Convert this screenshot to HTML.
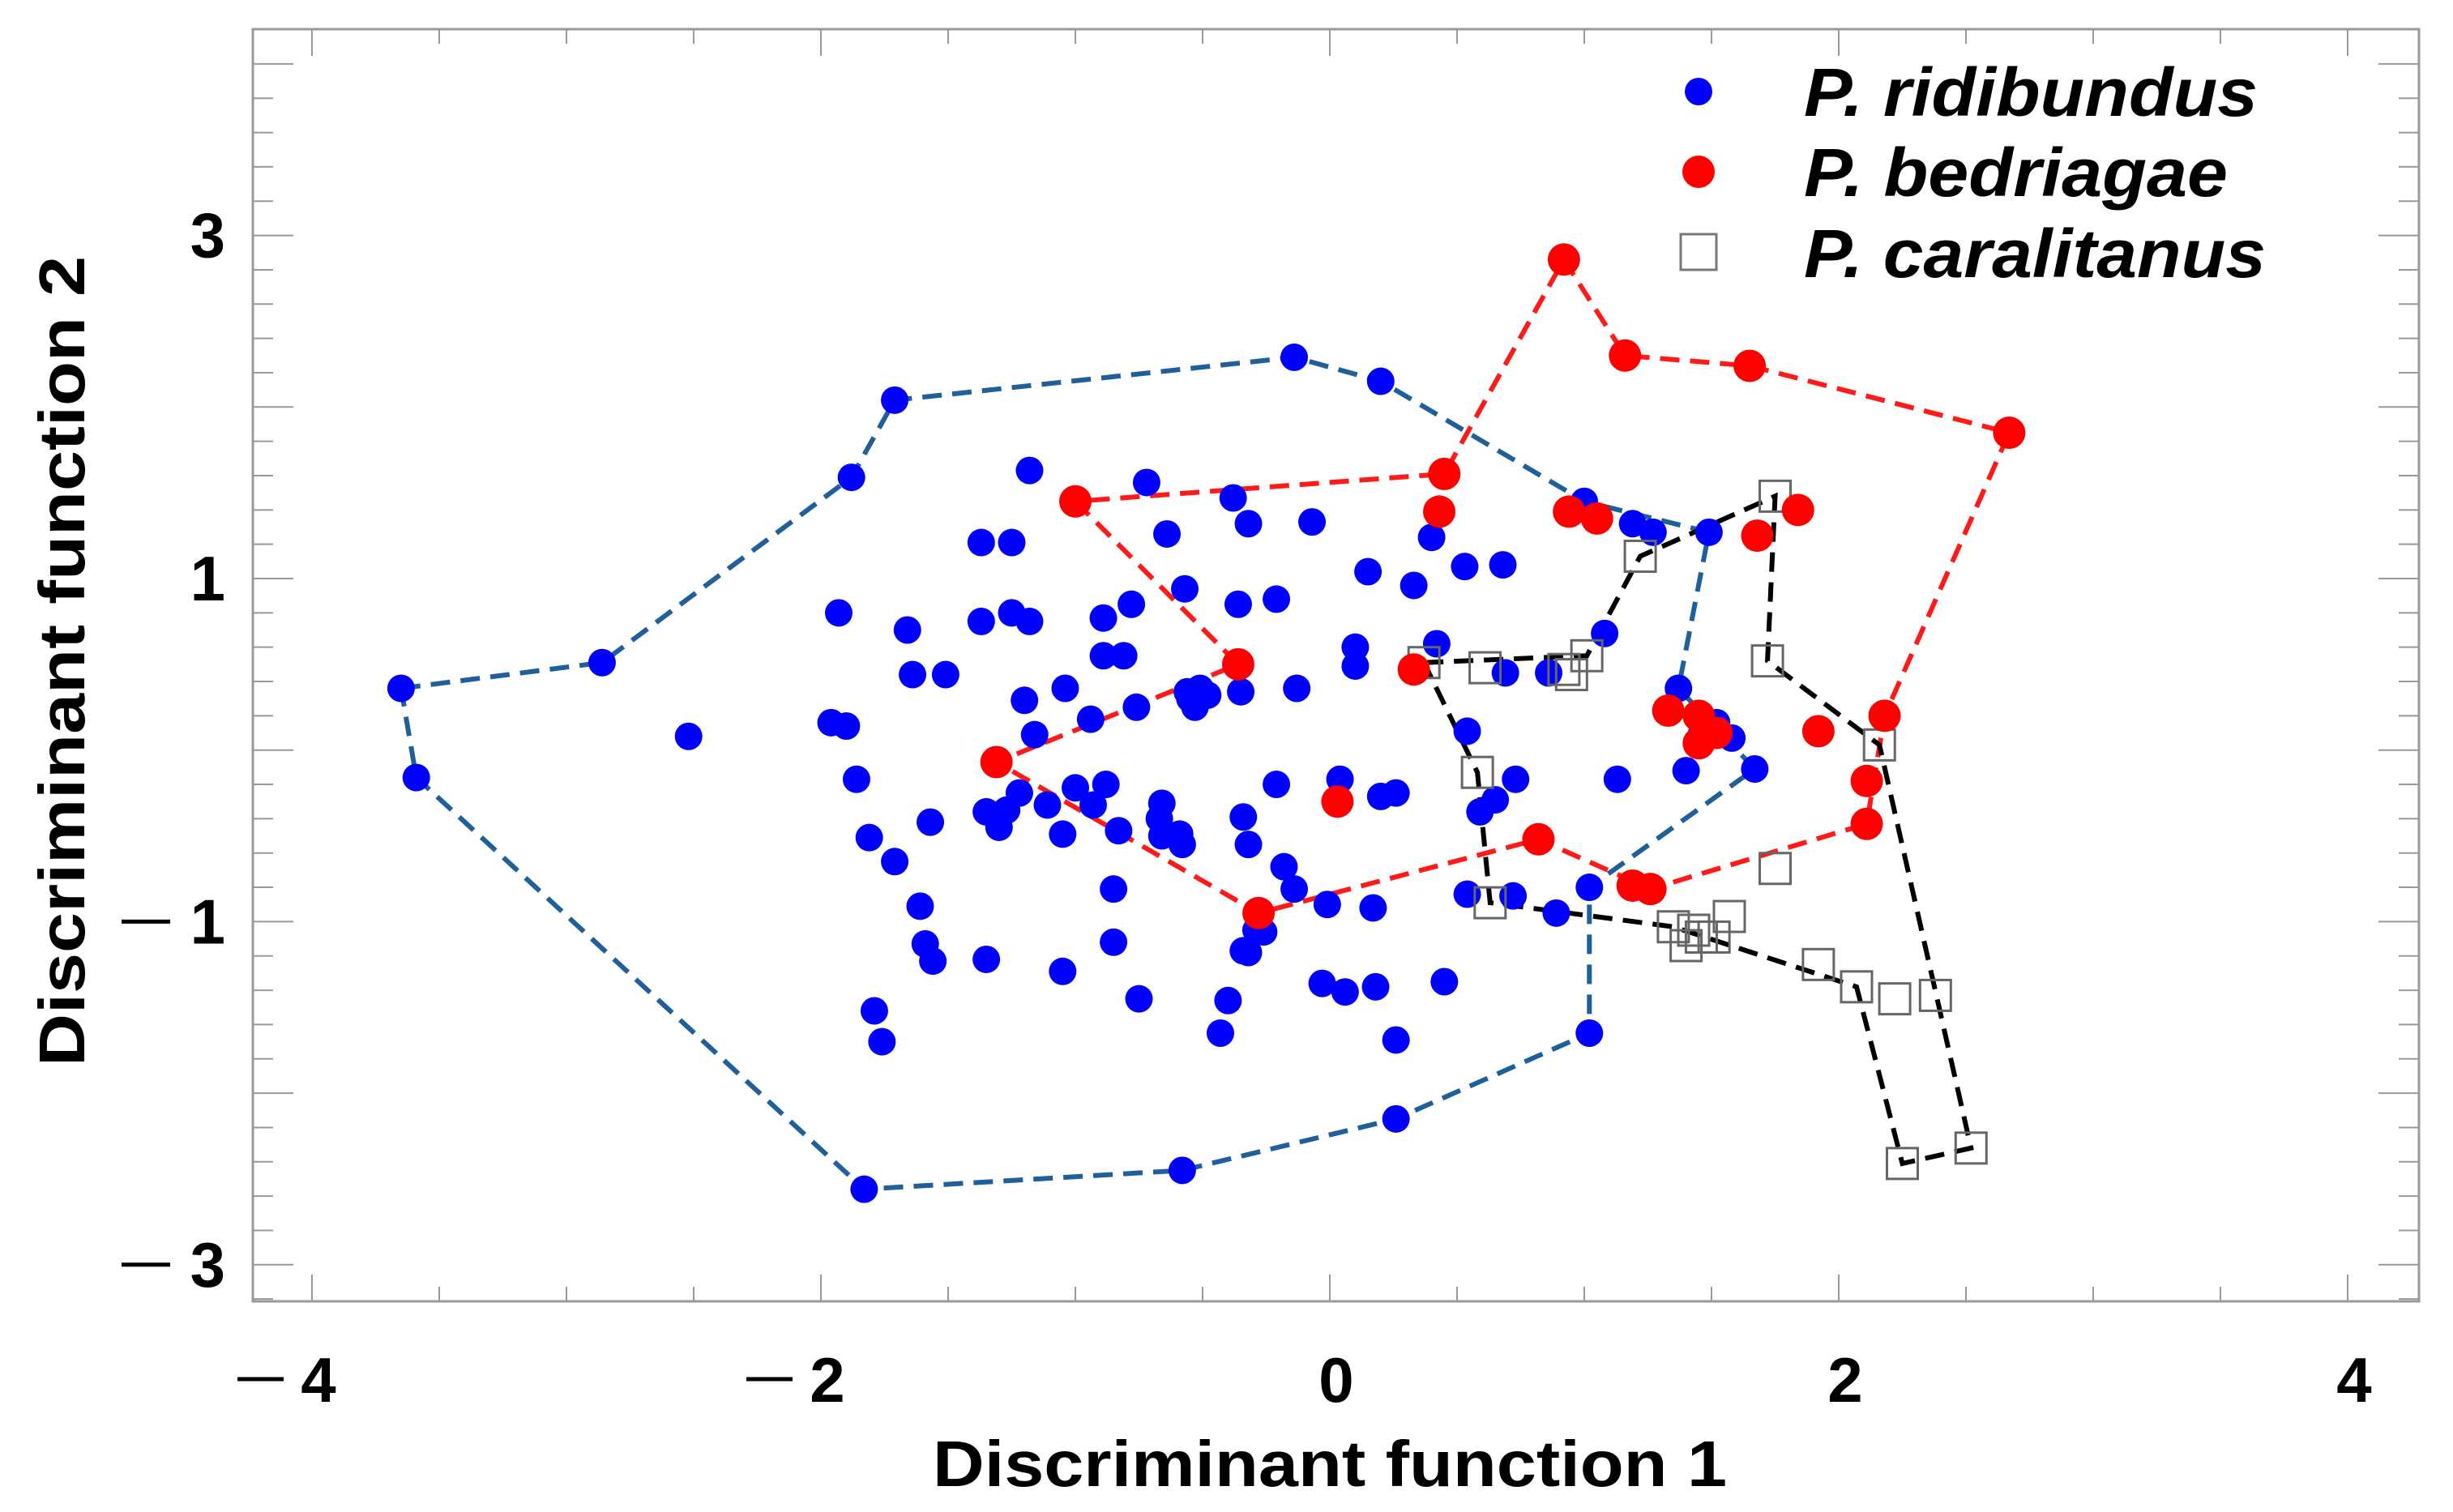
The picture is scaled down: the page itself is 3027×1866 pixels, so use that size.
<!DOCTYPE html>
<html><head><meta charset="utf-8"><style>
html,body{margin:0;padding:0;background:#fff;}
svg{display:block;}
text{font-family:"Liberation Sans",Arial,sans-serif;font-weight:bold;fill:#000;}
</style></head><body>
<svg id="chart" width="3027" height="1866" viewBox="0 0 3027 1866" xmlns="http://www.w3.org/2000/svg">
<g id="axes"></g>
<g id="hulls"></g>
<g id="marks"></g>
<g id="legend">
  <circle cx="2096" cy="113" r="17" fill="#0000ff"/>
  <text x="2226" y="143" font-size="84" font-style="italic" textLength="560" lengthAdjust="spacingAndGlyphs">P. ridibundus</text>
  <circle cx="2096" cy="212" r="20" fill="#ff0000"/>
  <text x="2226" y="242" font-size="84" font-style="italic" textLength="523" lengthAdjust="spacingAndGlyphs">P. bedriagae</text>
  <rect x="2074" y="289" width="44" height="44" fill="#fff" stroke="#777" stroke-width="3"/>
  <text x="2226" y="342" font-size="84" font-style="italic" textLength="570" lengthAdjust="spacingAndGlyphs">P. caralitanus</text>
</g>
<text x="1641" y="1834" font-size="80" text-anchor="middle" textLength="980" lengthAdjust="spacingAndGlyphs">Discriminant function 1</text>
<text transform="translate(104,816) rotate(-90)" font-size="80" text-anchor="middle" textLength="1000" lengthAdjust="spacingAndGlyphs">Discriminant function 2</text>
</svg>
<script>
const xTicks = [-4, -2, 0, 2, 4];
const yTicks = [3, 1, -1, -3];
const ridibundusX = [-3.65,-3.59,-2.86,-2.52,-1.88,-1.71,-1.93,-1.96,-1.90,-1.86,-1.81,-1.71,-1.66,-1.64,-1.61,-1.59,-1.56,-1.57,-1.51,-1.79,-1.76,-1.83,-1.37,-1.25,-1.37,-1.25,-1.18,-1.18,-1.35,-1.30,-1.27,-1.22,-1.20,-1.16,-1.04,-1.00,-1.11,-1.05,-1.05,-1.35,-0.94,-0.93,-0.89,-0.89,-0.88,-0.85,-0.85,-0.81,-0.83,-0.78,-0.76,-0.75,-0.72,-0.67,-0.66,-0.66,-0.64,-0.59,-0.57,-0.58,-0.58,-0.55,-0.53,-0.51,-0.48,-0.56,-0.38,-0.36,-0.35,-0.34,-0.32,-0.32,-0.29,-0.34,-0.40,-0.43,-0.32,-0.26,-0.21,-0.21,-0.18,-0.14,-0.14,-0.13,-0.07,-0.01,-0.03,0.04,0.06,0.10,0.10,0.15,0.17,0.18,0.20,0.20,0.26,0.26,0.26,0.33,0.40,0.42,0.53,0.54,0.59,0.54,0.45,0.68,0.69,0.73,0.65,0.72,0.89,1.00,1.02,1.02,1.08,1.13,1.19,1.27,1.37,1.40,1.46,1.52,1.58,1.49,1.67,0.86];
const ridibundusY = [0.36,-0.16,0.51,0.08,1.59,2.04,0.80,0.16,0.14,-0.17,-0.51,-0.65,0.70,0.44,-0.91,-1.13,-1.23,-0.42,0.44,-1.52,-1.70,-2.56,1.21,1.21,0.75,0.80,0.75,1.63,-0.36,-0.45,-0.35,-0.25,0.29,0.09,0.36,-0.22,-0.32,-0.49,-1.29,-1.22,0.18,-0.32,0.77,0.55,-0.20,-0.81,-1.12,0.55,-0.47,0.85,0.25,-1.45,1.56,-0.40,-0.50,-0.31,1.26,-0.49,0.94,-0.55,-2.45,0.30,0.25,0.36,0.32,0.34,1.47,0.85,0.34,-0.39,-0.55,1.32,-1.05,-1.17,-1.46,-1.65,-1.18,-1.06,0.88,-0.20,-0.68,-0.81,2.29,0.36,1.33,-0.90,-1.36,-0.17,-1.41,0.60,0.49,1.04,-0.92,-1.38,-0.27,2.15,-0.25,-1.69,-2.15,0.96,1.24,0.62,1.07,0.11,-0.36,-0.84,-1.35,1.08,0.45,-0.17,-0.29,-0.85,-0.95,1.45,-0.80,-1.65,0.68,-0.17,1.32,1.27,0.36,-0.12,0.09,0.16,0.07,1.27,-0.11,0.45];
const bedriagaeX = [-1.00,-0.36,-1.31,-0.28,0.03,0.45,0.43,0.33,0.82,0.92,0.94,1.05,1.16,1.19,1.26,1.33,1.45,1.45,1.52,1.65,1.68,1.84,1.92,2.11,2.11,2.18,2.67];
const bedriagaeY = [1.45,0.50,-0.07,-0.95,-0.30,1.61,1.39,0.47,-0.52,2.86,1.39,1.35,2.30,-0.79,-0.81,0.23,0.20,0.04,0.10,2.24,1.25,1.40,0.11,-0.18,-0.43,0.20,1.85];
const caralitanusX = [0.37,0.61,0.92,0.95,1.01,1.22,1.75,1.72,2.16,0.58,0.63,1.75,1.35,1.40,1.46,1.51,1.57,1.92,2.07,2.22,2.38,2.25,2.52,1.43];
const caralitanusY = [0.51,0.48,0.47,0.44,0.55,1.13,1.48,0.52,0.03,-0.13,-0.89,-0.69,-1.03,-1.14,-1.09,-1.09,-0.97,-1.25,-1.38,-1.45,-1.43,-2.41,-2.32,-1.05];
const ridibundusHullX = [-3.65,-2.86,-1.88,-1.71,-0.14,0.20,1.00,1.49,1.37,1.67,1.02,1.02,0.26,-0.58,-1.83,-3.59];
const ridibundusHullY = [0.36,0.51,1.59,2.04,2.29,2.15,1.45,1.27,0.36,-0.11,-0.80,-1.65,-2.15,-2.45,-2.56,-0.16];
const bedriagaeHullX = [-1.00,-0.36,-1.31,-0.28,0.82,1.26,2.11,2.18,2.67,1.65,1.16,0.92,0.45];
const bedriagaeHullY = [1.45,0.50,-0.07,-0.95,-0.52,-0.81,-0.43,0.20,1.85,2.24,2.30,2.86,1.61];
const caralitanusHullX = [0.37,1.01,1.22,1.75,1.72,2.16,2.52,2.25,2.07,1.35,0.63,0.58];
const caralitanusHullY = [0.51,0.55,1.13,1.48,0.52,0.03,-2.32,-2.41,-1.38,-1.03,-0.89,-0.13];

const NS = 'http://www.w3.org/2000/svg';
const L = 312, R = 2985, T = 36, B = 1606;
function sx(v){ return 1641 + v * 314; }
function sy(v){ return 714 - (v - 1) * 211.7; }
function mk(tag, attrs, parent){
  const e = document.createElementNS(NS, tag);
  for (const k in attrs) e.setAttribute(k, attrs[k]);
  parent.appendChild(e);
  return e;
}
const axes = document.getElementById('axes');
const frame = mk('rect', {x:L, y:T, width:R-L, height:B-T, fill:'none', stroke:'#999', 'stroke-width':3}, axes);


for (let i = -8; i <= 8; i++) {
  const v = i * 0.5, x = sx(v), major = (i % 4 === 0);
  const len = major ? 33 : 18;
  const t1 = mk('line', {x1:x, y1:B, x2:x, y2:B-len, stroke:'#999', 'stroke-width':2}, axes);
  
  
  const t2 = mk('line', {x1:x, y1:T, x2:x, y2:T+len, stroke:'#999', 'stroke-width':2}, axes);
  
  
}
for (let i = -16; i <= 20; i++) {
  const v = i * 0.2, y = sy(v);
  if (y < T + 2 || y > B - 2) continue;
  const major = (i % 5 === 0);
  const len = major ? 50 : 25;
  const t1 = mk('line', {x1:L, y1:y, x2:L+len, y2:y, stroke:'#999', 'stroke-width':2}, axes);
  
  
  const t2 = mk('line', {x1:R, y1:y, x2:R-len, y2:y, stroke:'#999', 'stroke-width':2}, axes);
  
  
}
xTicks.forEach(v => {
  const x = sx(v);
  const t = mk('text', {x: x + 8, y: 1730, 'font-size': 78, 'text-anchor': 'middle'}, axes);
  t.textContent = String(Math.abs(v));
  
  
  if (v < 0) {
    const d = mk('line', {x1:x-92, y1:1702, x2:x-35, y2:1702, stroke:'#000', 'stroke-width':5}, axes);
    
    
  }
});
yTicks.forEach(v => {
  const y = sy(v);
  const t = mk('text', {x: 278, y: y + 27, 'font-size': 78, 'text-anchor': 'end'}, axes);
  t.textContent = String(Math.abs(v));
  
  
  if (v < 0) {
    const d = mk('line', {x1:150, y1:y, x2:210, y2:y, stroke:'#000', 'stroke-width':5}, axes);
    
    
  }
});
const hulls = document.getElementById('hulls');
function hull(xs, ys, color, name){
  const pts = xs.map((x, i) => sx(x) + ',' + sy(ys[i])).join(' ');
  const p = mk('polygon', {points: pts, fill:'none', stroke:color, 'stroke-width':6, 'stroke-dasharray':'24 13'}, hulls);
  
  
}
hull(ridibundusHullX, ridibundusHullY, '#1f5f9a', 'ridibundus-hull');
hull(bedriagaeHullX, bedriagaeHullY, '#ff1a1a', 'bedriagae-hull');
hull(caralitanusHullX, caralitanusHullY, '#000', 'caralitanus-hull');
const marks = document.getElementById('marks');
ridibundusX.forEach((x, i) => {
  const c = mk('circle', {cx: sx(x), cy: sy(ridibundusY[i]), r: 17, fill:'#0000ff'}, marks);
  
  
});
caralitanusX.forEach((x, i) => {
  const r = mk('rect', {x: sx(x) - 19, y: sy(caralitanusY[i]) - 19, width: 38, height: 38, fill:'none', stroke:'#666', 'stroke-width':3}, marks);
  
  
});
bedriagaeX.forEach((x, i) => {
  const c = mk('circle', {cx: sx(x), cy: sy(bedriagaeY[i]), r: 20, fill:'#ff0000'}, marks);
  
  
});
</script>
</body></html>
